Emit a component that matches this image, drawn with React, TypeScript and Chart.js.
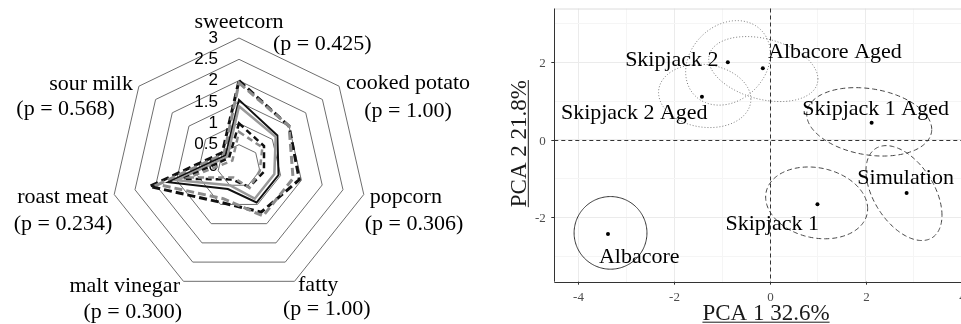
import React, { useEffect, useRef } from "react";
import { Chart, registerables } from "chart.js";

Chart.register(...registerables);

const SERIF = '"Liberation Serif", "Times New Roman", serif';
const SANS = '"Liberation Sans", Arial, sans-serif';

// ---------- Radar (sensory attributes) ----------
const attributes = ["sweetcorn", "cooked potato", "popcorn", "fatty", "malt vinegar", "roast meat", "sour milk"];
const pValues = ["(p = 0.425)", "(p = 1.00)", "(p = 0.306)", "(p = 1.00)", "(p = 0.300)", "(p = 0.234)", "(p = 0.568)"];
const radarTicks = [0, 0.5, 1, 1.5, 2, 2.5, 3];

const blackDashedOuter = [2.0, 1.5, 1.45, 1.2, 0.95, 2.15, 0.5];
const greyDashedOuter = [1.95, 1.5, 1.3, 1.3, 0.85, 1.95, 0.45];
const blackSolid = [1.55, 1.15, 0.95, 0.95, 0.6, 1.7, 0.4];
const greySolid = [1.4, 1.1, 0.85, 0.85, 0.5, 1.5, 0.35];
const blackDashedInner = [1.0, 0.75, 0.6, 0.55, 0.35, 1.35, 0.3];
const greyDashedInner = [0.8, 0.7, 0.5, 0.57, 0.3, 1.2, 0.2];

// ---------- PCA ----------
const groups = ["Albacore", "Skipjack 1", "Simulation", "Skipjack 1 Aged", "Skipjack 2", "Albacore Aged", "Skipjack 2 Aged"];
const pc1 = [-3.38, 0.99, 2.85, 2.12, -0.88, -0.15, -1.42];
const pc2 = [-2.43, -1.66, -1.37, 0.44, 2.0, 1.85, 1.11];
// confidence ellipses: centre, first conjugate semi-axis (x,y), second semi-axis (vertical)
const ellCx = [-3.327, 0.973, 2.795, 2.07, -0.876, -0.139, -1.362];
const ellCy = [-2.4, -1.626, -1.373, 0.465, 1.987, 1.827, 1.135];
const ellAx = [0.76, 1.064, 0.793, 1.304, 0.884, 1.139, 0.963];
const ellAy = [0, -0.151, -0.575, -0.194, 0.23, -0.258, -0.088];
const ellBy = [0.937, 0.914, 1.081, 0.861, 1.066, 0.798, 0.813];
const ellStyle = ["solid", "dashed", "dashed", "dashed", "dotted", "dotted", "dotted"];
const xTicks = [-4, -2, 0, 2, 4];
const yTicks = [-2, 0, 2];
const xTitle = "PCA 1 32.6%";
const yTitle = "PCA 2 21.8%";

// layout of text (offsets in px from anchors)
const radarLabelLayout = [
  { dx1: 0, dy1: -10, a1: "center", dx2: 34, dy2: 12, a2: "left" },
  { dx1: 69, dy1: 3, a1: "center", dx2: 69, dy2: 31, a2: "center" },
  { dx1: 6, dy1: 9, a1: "left", dx2: 1, dy2: 35.5, a2: "left" },
  { dx1: 3.5, dy1: 10, a1: "left", dx2: -11.5, dy2: 34, a2: "left" },
  { dx1: -3.5, dy1: 10.5, a1: "right", dx2: -1.5, dy2: 37, a2: "right" },
  { dx1: -6, dy1: 8.5, a1: "right", dx2: -2, dy2: 35.5, a2: "right" },
  { dx1: -6, dy1: 4, a1: "right", dx2: -24, dy2: 29, a2: "right" },
];
const pcaLabelLayout = [
  { dx: -9, dy: 29, a: "left" },
  { dx: 1.5, dy: 25.7, a: "right" },
  { dx: -1, dy: -8.8, a: "center" },
  { dx: 4, dy: -8, a: "center" },
  { dx: -9.2, dy: 3.5, a: "right" },
  { dx: 5.2, dy: -10, a: "left" },
  { dx: 5.6, dy: 22.3, a: "right" },
];

const radarDecor = {
  id: "radarDecor",
  beforeDatasetsDraw(chart: any) {
    const s = chart.scales.r;
    const ctx = chart.ctx;
    ctx.save();
    ctx.font = `17px ${SANS}`;
    ctx.fillStyle = "#000";
    ctx.textAlign = "right";
    ctx.textBaseline = "middle";
    radarTicks.forEach((v) => {
      const y = s.yCenter - s.getDistanceFromCenterForValue(v);
      ctx.fillText(String(v), s.xCenter - 21, y);
    });
    ctx.font = `22px ${SERIF}`;
    ctx.textBaseline = "alphabetic";
    attributes.forEach((name, i) => {
      const p = s.getPointPosition(i, s.drawingArea);
      const L = radarLabelLayout[i];
      ctx.textAlign = L.a1;
      ctx.fillText(name, p.x + L.dx1, p.y + L.dy1);
      ctx.textAlign = L.a2;
      ctx.fillText(pValues[i], p.x + L.dx2, p.y + L.dy2);
    });
    ctx.restore();
  },
};

const pcaDecor = {
  id: "pcaDecor",
  beforeDatasetsDraw(chart: any) {
    const { ctx, chartArea: a } = chart;
    const xs = chart.scales.x;
    const ys = chart.scales.y;
    ctx.save();
    // light panel top border
    ctx.strokeStyle = "#dcdcdc";
    ctx.lineWidth = 1;
    ctx.beginPath();
    ctx.moveTo(a.left, a.top + 0.5);
    ctx.lineTo(a.right, a.top + 0.5);
    ctx.stroke();

    // ellipses
    groups.forEach((g, i) => {
      const st = ellStyle[i];
      ctx.strokeStyle = st === "solid" ? "#333" : st === "dashed" ? "#444" : "#777";
      ctx.lineWidth = 1;
      ctx.setLineDash(st === "solid" ? [] : st === "dashed" ? [5, 3] : [1, 2]);
      ctx.beginPath();
      for (let k = 0; k <= 180; k++) {
        const t = (k / 180) * Math.PI * 2;
        const vx = ellCx[i] + Math.cos(t) * ellAx[i];
        const vy = ellCy[i] + Math.cos(t) * ellAy[i] + Math.sin(t) * ellBy[i];
        const px = xs.getPixelForValue(vx);
        const py = ys.getPixelForValue(vy);
        if (k === 0) ctx.moveTo(px, py);
        else ctx.lineTo(px, py);
      }
      ctx.closePath();
      ctx.stroke();
    });

    // reference lines
    ctx.setLineDash([4, 3]);
    ctx.strokeStyle = "#333";
    const x0 = Math.round(xs.getPixelForValue(0)) + 0.5;
    const y0 = Math.round(ys.getPixelForValue(0)) + 0.5;
    ctx.beginPath();
    ctx.moveTo(x0, a.top);
    ctx.lineTo(x0, a.bottom);
    ctx.moveTo(a.left, y0);
    ctx.lineTo(a.right, y0);
    ctx.stroke();
    ctx.setLineDash([]);

    // axis lines
    ctx.strokeStyle = "#333";
    ctx.beginPath();
    ctx.moveTo(Math.round(a.left) + 0.5, a.top);
    ctx.lineTo(Math.round(a.left) + 0.5, a.bottom);
    ctx.moveTo(a.left, Math.round(a.bottom) + 0.5);
    ctx.lineTo(a.right, Math.round(a.bottom) + 0.5);
    ctx.stroke();

    // ticks + labels
    ctx.font = `13px ${SERIF}`;
    ctx.fillStyle = "#4d4d4d";
    ctx.strokeStyle = "#333";
    ctx.textAlign = "right";
    ctx.textBaseline = "middle";
    yTicks.forEach((v) => {
      const y = Math.round(ys.getPixelForValue(v)) + 0.5;
      ctx.beginPath();
      ctx.moveTo(a.left - 3, y);
      ctx.lineTo(a.left, y);
      ctx.stroke();
      ctx.fillText(String(v), a.left - 8.5, y + 1);
    });
    ctx.textAlign = "center";
    ctx.textBaseline = "top";
    xTicks.forEach((v) => {
      const x = Math.round(xs.getPixelForValue(v)) + 0.5;
      ctx.beginPath();
      ctx.moveTo(x, a.bottom);
      ctx.lineTo(x, a.bottom + 3);
      ctx.stroke();
      ctx.fillText(String(v), x, a.bottom + 9);
    });

    // axis titles (underlined)
    ctx.font = `23px ${SERIF}`;
    ctx.fillStyle = "#1a1a1a";
    ctx.strokeStyle = "#1a1a1a";
    ctx.textBaseline = "alphabetic";
    ctx.textAlign = "center";
    const xtx = xs.getPixelForValue(0) - 4;
    const xty = a.bottom + 38;
    ctx.fillText(xTitle, xtx, xty);
    const w1 = ctx.measureText(xTitle).width;
    ctx.beginPath();
    ctx.moveTo(xtx - w1 / 2, xty + 2.5);
    ctx.lineTo(xtx + w1 / 2, xty + 2.5);
    ctx.stroke();

    ctx.save();
    ctx.translate(a.left - 28.5, (a.top + a.bottom) / 2 - 1.5);
    ctx.rotate(-Math.PI / 2);
    ctx.fillText(yTitle, 0, 0);
    const w2 = ctx.measureText(yTitle).width;
    ctx.beginPath();
    ctx.moveTo(-w2 / 2, 2.5);
    ctx.lineTo(w2 / 2, 2.5);
    ctx.stroke();
    ctx.restore();

    ctx.restore();
  },
  afterDatasetsDraw(chart: any) {
    const { ctx } = chart;
    const xs = chart.scales.x;
    const ys = chart.scales.y;
    ctx.save();
    ctx.font = `22px ${SERIF}`;
    ctx.fillStyle = "#000";
    ctx.textBaseline = "alphabetic";
    groups.forEach((g, i) => {
      const L = pcaLabelLayout[i];
      ctx.textAlign = L.a;
      ctx.fillText(g, xs.getPixelForValue(pc1[i]) + L.dx, ys.getPixelForValue(pc2[i]) + L.dy);
    });
    ctx.restore();
  },
};

function lineDs(data: number[], color: string, width: number, dash: number[]) {
  return {
    data,
    borderColor: color,
    backgroundColor: "transparent",
    borderWidth: width,
    borderDash: dash,
    fill: false,
    pointRadius: 0,
    pointHoverRadius: 0,
  };
}

export default function App() {
  const radarRef = useRef<HTMLCanvasElement>(null);
  const pcaRef = useRef<HTMLCanvasElement>(null);

  useEffect(() => {
    const radar = new Chart(radarRef.current as HTMLCanvasElement, {
      type: "radar",
      data: {
        labels: attributes,
        datasets: [
          lineDs(greyDashedInner, "#8c8c8c", 2.5, [6, 4]),
          lineDs(blackDashedInner, "#111", 2.5, [6, 4]),
          lineDs(greySolid, "#999", 2.5, []),
          lineDs(blackSolid, "#111", 2, []),
          lineDs(greyDashedOuter, "#8c8c8c", 3, [8, 4]),
          lineDs(blackDashedOuter, "#111", 3, [8, 4]),
        ] as any,
      },
      options: {
        animation: false,
        responsive: false,
        events: [],
        layout: { padding: { left: 111, right: 113, top: 38, bottom: 30 } },
        plugins: { legend: { display: false }, tooltip: { enabled: false } },
        elements: { line: { tension: 0 } },
        scales: {
          r: {
            min: 0,
            max: 3,
            ticks: { display: false, stepSize: 0.5 },
            grid: { color: "#6e6e6e", lineWidth: 1 },
            angleLines: { display: false },
            pointLabels: { display: false },
          },
        },
      } as any,
      plugins: [radarDecor],
    });

    const pca = new Chart(pcaRef.current as HTMLCanvasElement, {
      type: "scatter",
      data: {
        datasets: [
          {
            data: groups.map((g, i) => ({ x: pc1[i], y: pc2[i] })),
            pointRadius: 2,
            pointBorderWidth: 0,
            backgroundColor: "#000",
            borderColor: "#000",
          },
        ],
      },
      options: {
        animation: false,
        responsive: false,
        events: [],
        layout: { padding: { left: 74.3, top: 8.5, right: 9.5, bottom: 42.3 } },
        plugins: { legend: { display: false }, tooltip: { enabled: false } },
        scales: {
          x: {
            type: "linear",
            min: -4.5,
            max: 4.6,
            ticks: { display: false, stepSize: 1, includeBounds: false },
            grid: {
              drawTicks: false,
              lineWidth: 1,
              color: (c: any) => (c.tick && Math.abs(c.tick.value % 2) < 1e-9 ? "#ebebeb" : "#f5f5f5"),
            },
            border: { display: false },
          },
          y: {
            type: "linear",
            min: -3.66,
            max: 3.39,
            ticks: { display: false, stepSize: 1, includeBounds: false },
            grid: {
              drawTicks: false,
              lineWidth: 1,
              color: (c: any) => (c.tick && Math.abs(c.tick.value % 2) < 1e-9 ? "#ebebeb" : "#f5f5f5"),
            },
            border: { display: false },
          },
        },
      } as any,
      plugins: [pcaDecor],
    });

    return () => {
      radar.destroy();
      pca.destroy();
    };
  }, []);

  return (
    <div
      style={{
        position: "absolute",
        left: 0,
        top: 0,
        width: 961,
        height: 324,
        overflow: "hidden",
        background: "#fff",
      }}
    >
      <canvas
        ref={radarRef}
        width={480}
        height={324}
        style={{ position: "absolute", left: 0, top: 0, width: 480, height: 324 }}
      />
      <canvas
        ref={pcaRef}
        width={520}
        height={324}
        style={{ position: "absolute", left: 480, top: 0, width: 520, height: 324 }}
      />
    </div>
  );
}
